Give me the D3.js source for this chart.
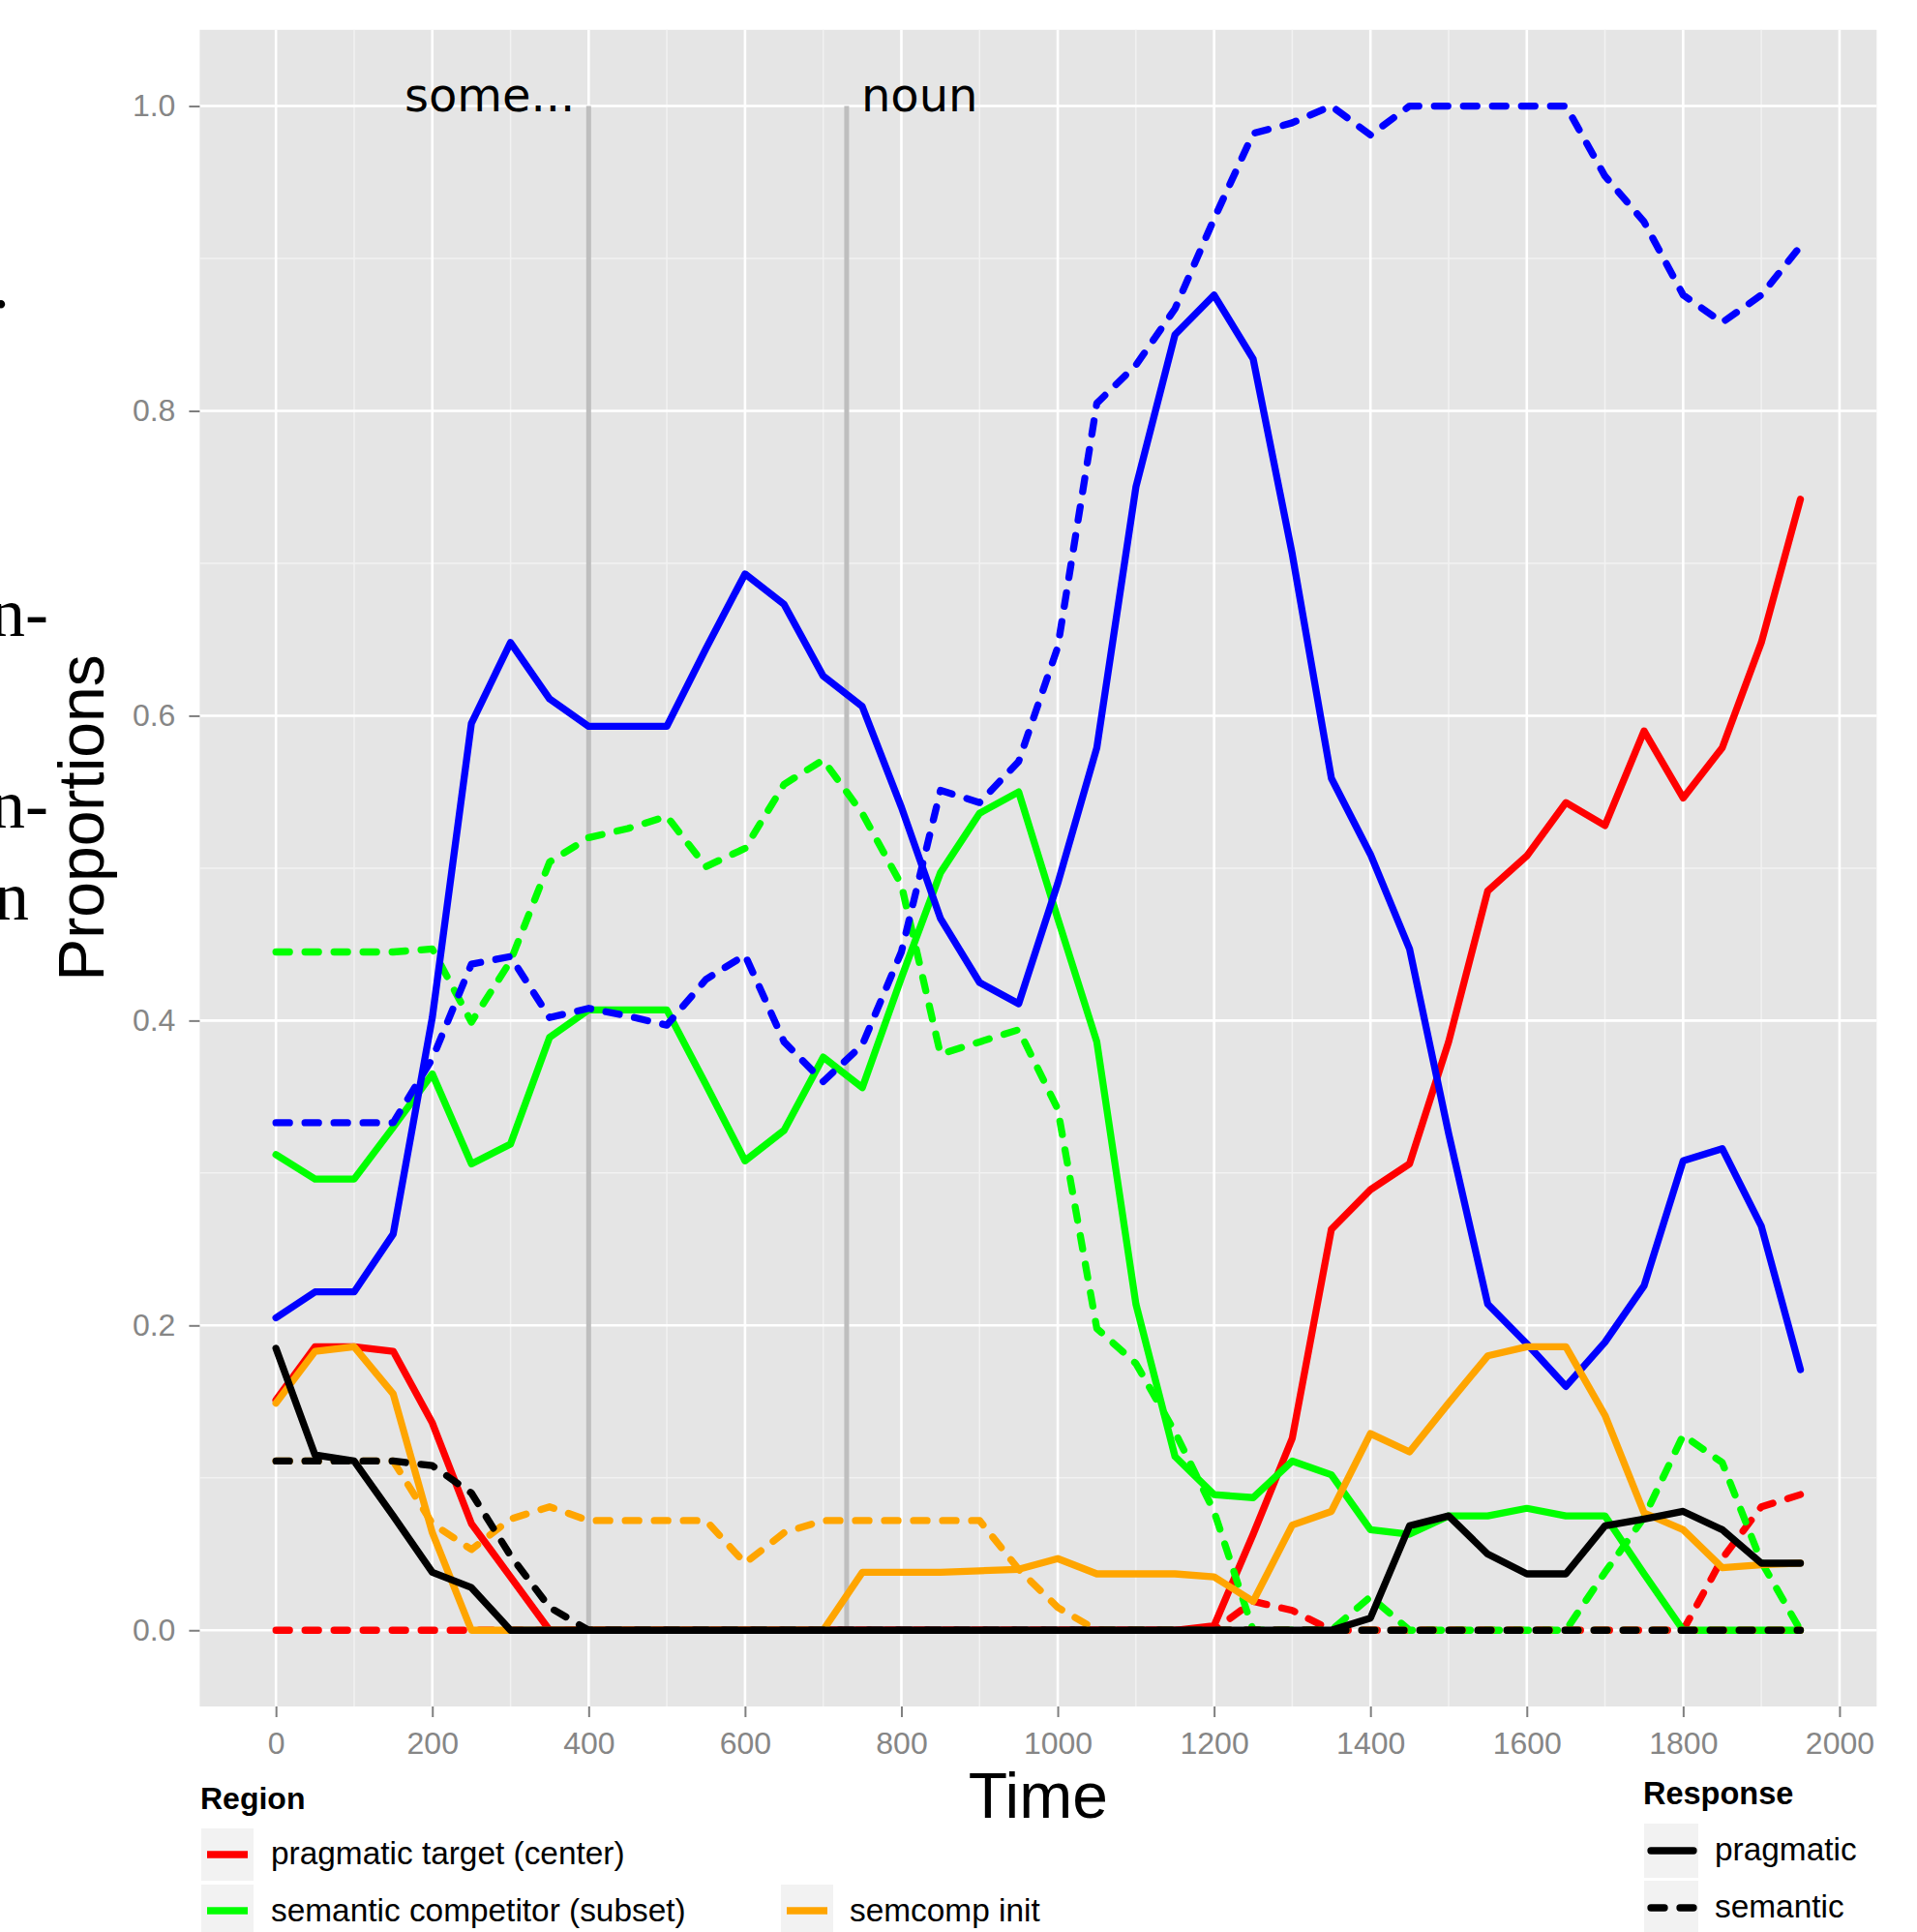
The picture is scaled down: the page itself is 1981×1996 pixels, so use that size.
<!DOCTYPE html>
<html><head><meta charset="utf-8">
<script src="https://cdn.jsdelivr.net/npm/d3@7"></script>
<style>body{margin:0;background:#fff} svg{display:block}</style>
</head><body>
<svg id="chart" width="1981" height="1996"></svg>
<script>
// ---------------- data ----------------
const times = [0,50,100,150,200,250,300,350,400,450,500,550,600,650,700,750,800,850,900,950,
  1000,1050,1100,1150,1200,1250,1300,1350,1400,1450,1500,1550,1600,1650,1700,1750,1800,1850,1900,1950];

const redPragmatic = [0.151,0.186,0.186,0.183,0.136,0.070,0.035,0,0,0,0,0,0,0,0,0,0,0,0,0,
  0,0,0,0,0.003,0.063,0.126,0.263,0.289,0.306,0.386,0.485,0.508,0.543,0.528,0.590,0.546,0.579,0.648,0.742];
const redSemantic = [0,0,0,0,0,0,0,0,0,0,0,0,0,0,0,0,0,0,0,0,
  0,0,0,0,0,0.019,0.013,0,0,0,0,0,0,0,0,0,0,0.047,0.081,0.089];

const greenPragmatic = [0.312,0.296,0.296,0.330,0.365,0.306,0.319,0.389,0.407,0.407,0.407,0.358,0.308,0.328,0.376,0.356,0.428,0.497,0.536,0.550,
  0.467,0.386,0.214,0.114,0.089,0.087,0.111,0.102,0.066,0.063,0.075,0.075,0.080,0.075,0.075,0.037,0,0,0,0];
const greenSemantic = [0.445,0.445,0.445,0.445,0.447,0.399,0.439,0.504,0.520,0.526,0.534,0.501,0.513,0.555,0.571,0.536,0.489,0.378,0.386,0.394,
  0.342,0.198,0.175,0.130,0.078,0,0,0,0.022,0,0,0,0,0,0.038,0.074,0.128,0.110,0.045,0];

const bluePragmatic = [0.205,0.222,0.222,0.260,0.402,0.595,0.648,0.611,0.593,0.593,0.593,0.644,0.693,0.673,0.626,0.606,0.540,0.467,0.425,0.411,
  0.490,0.579,0.750,0.850,0.876,0.834,0.706,0.559,0.509,0.447,0.326,0.214,0.188,0.160,0.189,0.226,0.308,0.316,0.265,0.171];
const blueSemantic = [0.333,0.333,0.333,0.333,0.375,0.437,0.442,0.402,0.408,0.403,0.397,0.427,0.443,0.386,0.360,0.384,0.445,0.551,0.543,0.570,
  0.645,0.805,0.830,0.867,0.926,0.982,0.989,1.000,0.981,1.000,1.000,1.000,1.000,1.000,0.954,0.924,0.876,0.858,0.876,0.908];

const orangePragmatic = [0.149,0.183,0.186,0.155,0.064,0,0,0,0,0,0,0,0,0,0,0.038,0.038,0.038,0.039,0.040,
  0.047,0.037,0.037,0.037,0.035,0.019,0.069,0.078,0.129,0.117,0.149,0.180,0.186,0.186,0.141,0.077,0.066,0.041,0.043,0.044];
const orangeSemantic = [0.111,0.111,0.111,0.111,0.070,0.053,0.073,0.081,0.072,0.072,0.072,0.072,0.044,0.064,0.072,0.072,0.072,0.072,0.072,0.040,
  0.015,0,0,0,0,0,0,0,0,0,0,0,0,0,0,0,0,0,0,0];

const blackPragmatic = [0.185,0.115,0.111,0.075,0.038,0.028,0,0,0,0,0,0,0,0,0,0,0,0,0,0,
  0,0,0,0,0,0,0,0,0.008,0.0685,0.075,0.050,0.037,0.037,0.0685,0.073,0.078,0.066,0.044,0.044];
const blackSemantic = [0.111,0.111,0.111,0.111,0.108,0.090,0.049,0.015,0,0,0,0,0,0,0,0,0,0,0,0,
  0,0,0,0,0,0,0,0,0,0,0,0,0,0,0,0,0,0,0,0];

const xTicks = [0,200,400,600,800,1000,1200,1400,1600,1800,2000];
const xMinor = [100,300,500,700,900,1100,1300,1500,1700,1900];
const yTicks = [0,0.2,0.4,0.6,0.8,1.0];
const yMinor = [0.1,0.3,0.5,0.7,0.9];
const markerTimes = [400,730];
const markerLabels = ["some...","noun"];
const regionLabels = ["pragmatic target (center)","semantic competitor (subset)","semcomp init"];
const responseLabels = ["pragmatic","semantic"];
const pageFragments = [".","n-","n-","n"];

// ---------------- styles ----------------
const regionColor = {red:"#FF0000", green:"#00FF00", blue:"#0000FF", orange:"#FFA500", black:"#000000"};
const seriesList = [
  {region:"red", response:"pragmatic", values:redPragmatic},
  {region:"red", response:"semantic", values:redSemantic},
  {region:"green", response:"pragmatic", values:greenPragmatic},
  {region:"green", response:"semantic", values:greenSemantic},
  {region:"blue", response:"pragmatic", values:bluePragmatic},
  {region:"blue", response:"semantic", values:blueSemantic},
  {region:"orange", response:"pragmatic", values:orangePragmatic},
  {region:"orange", response:"semantic", values:orangeSemantic},
  {region:"black", response:"pragmatic", values:blackPragmatic},
  {region:"black", response:"semantic", values:blackSemantic}
];
const LW = 7.3, DASH = "14,16";
const sans = "'Liberation Sans', Arial, sans-serif";

const svg = d3.select("#chart");
svg.append("rect").attr("width",1981).attr("height",1996).attr("fill","#fff");

const x = d3.scaleLinear().domain([-97.5, 2047.5]).range([206.4, 1939.3]);
const y = d3.scaleLinear().domain([-0.05, 1.05]).range([1763, 30.8]);
const [px0, px1] = x.range();
const [py0, py1] = y.range();

// panel
svg.append("rect").attr("x",px0).attr("y",py1).attr("width",px1-px0).attr("height",py0-py1).attr("fill","#E5E5E5");
const grid = svg.append("g");
grid.selectAll(".xmin").data(xMinor).join("line").attr("class","xmin")
  .attr("x1",d=>x(d)).attr("x2",d=>x(d)).attr("y1",py1).attr("y2",py0)
  .attr("stroke","#F2F2F2").attr("stroke-width",1.5);
grid.selectAll(".ymin").data(yMinor).join("line").attr("class","ymin")
  .attr("y1",d=>y(d)).attr("y2",d=>y(d)).attr("x1",px0).attr("x2",px1)
  .attr("stroke","#F2F2F2").attr("stroke-width",1.5);
grid.selectAll(".xmaj").data(xTicks).join("line").attr("class","xmaj")
  .attr("x1",d=>x(d)).attr("x2",d=>x(d)).attr("y1",py1).attr("y2",py0)
  .attr("stroke","#FFFFFF").attr("stroke-width",2.6);
grid.selectAll(".ymaj").data(yTicks).join("line").attr("class","ymaj")
  .attr("y1",d=>y(d)).attr("y2",d=>y(d)).attr("x1",px0).attr("x2",px1)
  .attr("stroke","#FFFFFF").attr("stroke-width",2.6);

// marker lines
svg.append("g").selectAll("line").data(markerTimes).join("line")
  .attr("x1",d=>x(d)).attr("x2",d=>x(d)).attr("y1",y(1.0)).attr("y2",y(0))
  .attr("stroke","#BEBEBE").attr("stroke-width",5);

// data lines
const line = d3.line().x((d,i)=>x(times[i])).y(d=>y(d));
svg.append("g").selectAll("path").data(seriesList).join("path")
  .attr("d",d=>line(d.values))
  .attr("fill","none")
  .attr("stroke",d=>regionColor[d.region])
  .attr("stroke-width",LW)
  .attr("stroke-linejoin","round")
  .attr("stroke-linecap","round")
  .attr("stroke-dasharray",d=>d.response==="semantic"?DASH:null);

// marker labels
svg.append("text").attr("x",x(markerTimes[0])-14).attr("y",115).attr("text-anchor","end")
  .attr("font-family","'DejaVu Sans', sans-serif").attr("font-size",48).attr("fill","#000").text(markerLabels[0]);
svg.append("text").attr("x",x(markerTimes[1])+15).attr("y",115).attr("text-anchor","start")
  .attr("font-family","'DejaVu Sans', sans-serif").attr("font-size",48).attr("fill","#000").text(markerLabels[1]);

// axes
const xAxis = svg.append("g").attr("transform",`translate(0,${py0})`)
  .call(d3.axisBottom(x).tickValues(xTicks).tickFormat(d3.format("d")).tickSize(11).tickPadding(15));
const yAxis = svg.append("g").attr("transform",`translate(${px0},0)`)
  .call(d3.axisLeft(y).tickValues(yTicks).tickFormat(d3.format(".1f")).tickSize(11).tickPadding(14));
[xAxis,yAxis].forEach(a=>{
  a.select(".domain").remove();
  a.selectAll(".tick line").attr("stroke","#7F7F7F").attr("stroke-width",2);
  a.selectAll(".tick text").attr("fill","#868686").attr("font-size",32).attr("font-family",sans);
});

// axis titles
svg.append("text").attr("x",(px0+px1)/2).attr("y",1878).attr("text-anchor","middle")
  .attr("font-family",sans).attr("font-size",66).attr("fill","#000").text("Time");
svg.append("text").attr("transform","translate(107,845) rotate(-90)").attr("text-anchor","middle")
  .attr("font-family",sans).attr("font-size",66).attr("fill","#000").text("Proportions");

// legend: Region
const leg = svg.append("g");
leg.append("text").attr("x",207).attr("y",1869).attr("font-family",sans).attr("font-weight","bold")
  .attr("font-size",32).text("Region");
const regionKeys = [
  {label:regionLabels[0], color:regionColor.red, kx:207, ky:1888, tx:280, ty:1926},
  {label:regionLabels[1], color:regionColor.green, kx:207, ky:1946, tx:280, ty:1985},
  {label:regionLabels[2], color:regionColor.orange, kx:806, ky:1946, tx:878, ty:1985}
];
regionKeys.forEach(k=>{
  leg.append("rect").attr("x",k.kx).attr("y",k.ky).attr("width",56).attr("height",56)
    .attr("fill","#F2F2F2").attr("stroke","#fff").attr("stroke-width",2);
  leg.append("line").attr("x1",k.kx+7).attr("x2",k.kx+49).attr("y1",k.ky+28).attr("y2",k.ky+28)
    .attr("stroke",k.color).attr("stroke-width",LW);
  leg.append("text").attr("x",k.tx).attr("y",k.ty).attr("font-family",sans).attr("font-size",33.4)
    .attr("fill","#000").text(k.label);
});

// legend: Response
leg.append("text").attr("x",1698).attr("y",1864).attr("font-family",sans).attr("font-weight","bold")
  .attr("font-size",32.5).text("Response");
const responseKeys = [
  {label:responseLabels[0], dash:null, ky:1883, ty:1922},
  {label:responseLabels[1], dash:DASH, ky:1942, ty:1981}
];
responseKeys.forEach(k=>{
  leg.append("rect").attr("x",1698).attr("y",k.ky).attr("width",58).attr("height",58)
    .attr("fill","#F2F2F2").attr("stroke","#fff").attr("stroke-width",2);
  leg.append("line").attr("x1",1706).attr("x2",1750).attr("y1",k.ky+29).attr("y2",k.ky+29)
    .attr("stroke","#000").attr("stroke-width",LW).attr("stroke-linecap","round")
    .attr("stroke-dasharray",k.dash);
  leg.append("text").attr("x",1772).attr("y",k.ty).attr("font-family",sans).attr("font-size",33.4)
    .attr("fill","#000").text(k.label);
});

// fragments of neighbouring page text at left edge (cut off by the page edge, as in the source)
const fragPos = [[10,318],[50,657],[50,855],[30,950]];
svg.append("g").selectAll("text").data(pageFragments).join("text")
  .attr("x",(d,i)=>fragPos[i][0]).attr("y",(d,i)=>fragPos[i][1]).attr("text-anchor","end")
  .attr("font-family","'Liberation Serif', 'Times New Roman', serif").attr("font-size",72)
  .attr("fill","#000").text(d=>d);
</script>
</body></html>
